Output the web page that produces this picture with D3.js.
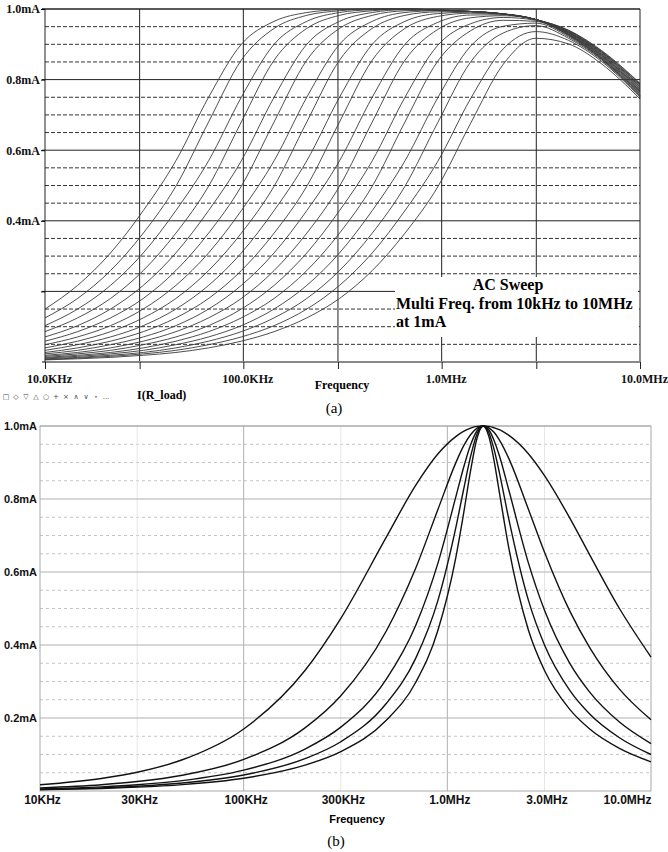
<!DOCTYPE html>
<html>
<head>
<meta charset="utf-8">
<script src="https://cdn.jsdelivr.net/npm/d3@7"></script>
<style>
  body { margin: 0; background: #fff; }
  svg { display: block; }
</style>
</head>
<body>
<svg width="668" height="852"></svg>
<script>
// (a) AC sweep: shared frequency points, one row per curve (mA)
var freqA = [10e3, 14.6e3, 21.4e3, 31.3e3, 45.7e3, 66.8e3, 97.7e3, 142.9e3, 208.9e3, 305.5e3,
             446.7e3, 653.1e3, 955e3, 1.396e6, 2.042e6, 2.985e6, 4.365e6, 6.383e6, 10e6];
var currentA = [
  [0.150,0.217,0.309,0.429,0.570,0.750,0.900,0.965,0.990,0.998,1.000,1.000,0.997,0.993,0.986,0.970,0.940,0.883,0.790],
  [0.125,0.180,0.259,0.365,0.498,0.680,0.855,0.945,0.982,0.995,1.000,1.000,0.997,0.993,0.986,0.970,0.939,0.881,0.788],
  [0.103,0.150,0.217,0.309,0.429,0.570,0.750,0.900,0.965,0.990,0.998,1.000,0.997,0.993,0.986,0.970,0.938,0.879,0.785],
  [0.086,0.125,0.180,0.259,0.365,0.498,0.680,0.855,0.945,0.982,0.995,1.000,0.997,0.993,0.986,0.970,0.936,0.878,0.783],
  [0.071,0.103,0.150,0.217,0.309,0.429,0.570,0.750,0.900,0.965,0.990,0.998,0.997,0.993,0.986,0.970,0.935,0.876,0.780],
  [0.059,0.086,0.125,0.180,0.259,0.365,0.498,0.680,0.855,0.945,0.982,0.995,0.997,0.993,0.986,0.970,0.934,0.874,0.778],
  [0.049,0.071,0.103,0.150,0.217,0.309,0.429,0.570,0.750,0.900,0.965,0.990,0.995,0.993,0.986,0.970,0.933,0.872,0.775],
  [0.040,0.059,0.086,0.125,0.180,0.259,0.365,0.498,0.680,0.855,0.945,0.982,0.992,0.993,0.986,0.970,0.932,0.870,0.773],
  [0.033,0.049,0.071,0.103,0.150,0.217,0.309,0.429,0.570,0.750,0.900,0.965,0.987,0.991,0.986,0.970,0.930,0.869,0.770],
  [0.027,0.040,0.059,0.086,0.125,0.180,0.259,0.365,0.498,0.680,0.855,0.945,0.979,0.988,0.986,0.970,0.929,0.867,0.768],
  [0.023,0.033,0.049,0.071,0.103,0.150,0.217,0.309,0.429,0.570,0.750,0.900,0.962,0.983,0.984,0.970,0.928,0.865,0.765],
  [0.019,0.027,0.040,0.059,0.086,0.125,0.180,0.259,0.365,0.498,0.680,0.855,0.942,0.975,0.981,0.970,0.927,0.863,0.763],
  [0.016,0.023,0.033,0.049,0.071,0.103,0.150,0.217,0.309,0.429,0.570,0.750,0.897,0.958,0.976,0.968,0.926,0.861,0.760],
  [0.013,0.019,0.027,0.040,0.059,0.086,0.125,0.180,0.259,0.365,0.498,0.680,0.852,0.938,0.968,0.965,0.924,0.860,0.758],
  [0.011,0.016,0.023,0.033,0.049,0.071,0.103,0.150,0.217,0.309,0.429,0.570,0.748,0.894,0.951,0.960,0.921,0.858,0.755],
  [0.009,0.013,0.019,0.027,0.040,0.059,0.086,0.125,0.180,0.259,0.365,0.498,0.678,0.849,0.932,0.953,0.917,0.856,0.753],
  [0.007,0.011,0.016,0.023,0.033,0.049,0.071,0.103,0.150,0.217,0.309,0.429,0.568,0.745,0.887,0.936,0.911,0.852,0.750],
  [0.006,0.009,0.013,0.019,0.027,0.040,0.059,0.086,0.125,0.180,0.259,0.365,0.496,0.675,0.843,0.917,0.901,0.845,0.745]
];

// (b) resonance curves
var freqB = [10e3, 20e3, 30e3, 50e3, 100e3, 200e3, 300e3, 500e3, 700e3, 900e3, 1.1e6, 1.2e6, 1.3e6,
             1.4e6, 1.5e6, 1.6e6, 1.7e6, 1.8e6, 2e6, 2.5e6, 3e6, 4e6, 5e6, 7e6, 10e6];
var currentB = [
  [0.0172,0.0343,0.0514,0.0856,0.170,0.330,0.473,0.694,0.838,0.924,0.971,0.985,0.994,0.999,1.0,0.999,0.995,0.990,0.975,0.924,0.864,0.747,0.647,0.500,0.367],
  [0.0086,0.0173,0.0259,0.0432,0.0864,0.173,0.261,0.437,0.611,0.772,0.899,0.945,0.976,0.994,1.0,0.995,0.982,0.962,0.912,0.772,0.654,0.492,0.393,0.279,0.195],
  [0.0057,0.0114,0.0171,0.0285,0.0571,0.115,0.175,0.305,0.454,0.625,0.805,0.885,0.948,0.987,1.0,0.989,0.959,0.919,0.826,0.625,0.495,0.349,0.271,0.189,0.130],
  [0.0044,0.0087,0.0131,0.0219,0.0438,0.0886,0.135,0.239,0.364,0.523,0.721,0.824,0.916,0.979,1.0,0.981,0.934,0.873,0.747,0.523,0.400,0.275,0.211,0.146,0.100],
  [0.0035,0.0070,0.0105,0.0175,0.0350,0.0709,0.108,0.193,0.298,0.441,0.639,0.758,0.877,0.967,1.0,0.971,0.902,0.819,0.668,0.441,0.330,0.223,0.170,0.117,0.080]
];

// ticks and labels
var xTicks = [1e4, 3e4, 1e5, 3e5, 1e6, 3e6, 1e7];
var xLabelsA = ["10.0KHz", "", "100.0KHz", "", "1.0MHz", "", "10.0MHz"];
var xLabelsB = ["10KHz", "30KHz", "100KHz", "300KHz", "1.0MHz", "3.0MHz", "10.0MHz"];
var yMajor = [0.2, 0.4, 0.6, 0.8, 1.0];
var yMinor = [0.05, 0.1, 0.15, 0.25, 0.3, 0.35, 0.45, 0.5, 0.55, 0.65, 0.7, 0.75, 0.85, 0.9, 0.95];
var yLabelsA = ["", "0.4mA", "0.6mA", "0.8mA", "1.0mA"];
var yLabelsB = ["0.2mA", "0.4mA", "0.6mA", "0.8mA", "1.0mA"];
var legendMarks = ["\u25a1", "\u25c7", "\u25bd", "\u25b3", "\u25cb", "+", "\u2a2f", "\u2227", "\u2228", "\u22c6", "..."];
var noteLines = ["Multi Freq. from 10kHz to 10MHz", "at 1mA"];

var serif = "'Liberation Serif', 'Times New Roman', serif",
    sans = "'Liberation Sans', Arial, sans-serif";

var svg = d3.select("svg");

// ---------------- (a) ----------------
var a = { left: 45, right: 640, top: 9, bottom: 362 };
var xA = d3.scaleLog().domain([1e4, 1e7]).range([a.left, a.right]),
    yA = d3.scaleLinear().domain([0, 1]).range([a.bottom, a.top]);
var gA = svg.append("g");

gA.selectAll(".minorA").data(yMinor).enter().append("line")
    .attr("x1", a.left).attr("x2", a.right)
    .attr("y1", function (d) { return yA(d); })
    .attr("y2", function (d) { return yA(d); })
    .attr("stroke", "#333").attr("stroke-dasharray", "4,2");

gA.selectAll(".majorA").data(yMajor).enter().append("line")
    .attr("x1", a.left - 3).attr("x2", a.right)
    .attr("y1", function (d) { return yA(d); })
    .attr("y2", function (d) { return yA(d); })
    .attr("stroke", "#222").attr("stroke-width", function (d) { return d === 1 ? 1.6 : 1; });

gA.selectAll(".vgridA").data(xTicks.slice(1, -1)).enter().append("line")
    .attr("x1", function (d) { return xA(d); })
    .attr("x2", function (d) { return xA(d); })
    .attr("y1", a.top).attr("y2", a.bottom)
    .attr("stroke", "#222");

// text box covers grid in lower right
gA.append("rect").attr("x", 395).attr("y", 277).attr("width", 243).attr("height", 60).attr("fill", "#fff");

var lineA = d3.line()
    .x(function (d, i) { return xA(freqA[i]); })
    .y(function (d) { return yA(d); })
    .curve(d3.curveMonotoneX);

gA.selectAll(".curveA").data(currentA).enter().append("path")
    .attr("d", lineA)
    .attr("fill", "none").attr("stroke", "#3a3a3a").attr("stroke-width", 0.9);

gA.append("line").attr("x1", a.right).attr("x2", a.right).attr("y1", a.top).attr("y2", a.bottom).attr("stroke", "#222");

var axA = gA.append("g")
    .attr("transform", "translate(0," + a.bottom + ")")
    .call(d3.axisBottom(xA).tickValues(xTicks)
        .tickFormat(function (d, i) { return xLabelsA[i]; })
        .tickSize(7).tickSizeOuter(0).tickPadding(5));
axA.select(".domain").attr("stroke", "#888").attr("stroke-width", 2.2).attr("d", "M" + (a.left - 3) + ",0H" + a.right);
axA.selectAll(".tick line").attr("stroke", "#222");
axA.selectAll("text").attr("dx", 4).style("font-family", serif).style("font-weight", "bold").style("font-size", "12px").attr("fill", "#111");

var ayA = gA.append("g")
    .attr("transform", "translate(" + a.left + ",0)")
    .call(d3.axisLeft(yA).tickValues(yMajor)
        .tickFormat(function (d, i) { return yLabelsA[i]; })
        .tickSize(4).tickSizeOuter(0).tickPadding(1));
ayA.select(".domain").attr("stroke", "#222").attr("d", "M0," + a.top + "V" + a.bottom);
ayA.selectAll("text").style("font-family", serif).style("font-weight", "bold").style("font-size", "12px").attr("fill", "#111");

gA.append("text").attr("x", 508).attr("y", 290).attr("text-anchor", "middle")
    .style("font-family", serif).style("font-weight", "bold").style("font-size", "16px").text("AC Sweep");
gA.selectAll(".note").data(noteLines).enter().append("text")
    .attr("x", 396).attr("y", function (d, i) { return 309 + i * 18; })
    .style("font-family", serif).style("font-weight", "bold").style("font-size", "16px")
    .text(function (d) { return d; });

gA.append("text").attr("x", 342).attr("y", 389).attr("text-anchor", "middle")
    .style("font-family", serif).style("font-weight", "bold").style("font-size", "12px").text("Frequency");

var legX = d3.scalePoint().domain(d3.range(legendMarks.length)).range([6, 106]);
gA.selectAll(".mark").data(legendMarks).enter().append("text")
    .attr("x", function (d, i) { return legX(i); })
    .attr("y", 399).attr("text-anchor", "middle")
    .style("font-family", "'DejaVu Sans', sans-serif").style("font-size", "7px").attr("fill", "#444")
    .text(function (d) { return d; });
gA.append("text").attr("x", 137).attr("y", 399)
    .style("font-family", serif).style("font-weight", "bold").style("font-size", "12px").text("I(R_load)");

svg.append("text").attr("x", 334).attr("y", 413).attr("text-anchor", "middle")
    .style("font-family", serif).style("font-size", "15px").text("(a)");

// ---------------- (b) ----------------
var b = { left: 40, right: 651, top: 426, bottom: 791 };
var xB = d3.scaleLog().domain([1e4, 1e7]).range([b.left, b.right]),
    yB = d3.scaleLinear().domain([0, 1]).range([b.bottom, b.top]);
var gB = svg.append("g");

gB.selectAll(".minorB").data(yMinor).enter().append("line")
    .attr("x1", b.left).attr("x2", b.right)
    .attr("y1", function (d) { return yB(d); })
    .attr("y2", function (d) { return yB(d); })
    .attr("stroke", "#c4c4c4").attr("stroke-dasharray", "3,3");

gB.selectAll(".vgridB").data(xTicks.slice(1, -1)).enter().append("line")
    .attr("x1", function (d) { return xB(d); })
    .attr("x2", function (d) { return xB(d); })
    .attr("y1", b.top).attr("y2", b.bottom)
    .attr("stroke", function (d, i) { return i % 2 ? "#b0b0b0" : "#e6e6e6"; });

gB.selectAll(".majorB").data(yMajor).enter().append("line")
    .attr("x1", b.left).attr("x2", b.right)
    .attr("y1", function (d) { return yB(d); })
    .attr("y2", function (d) { return yB(d); })
    .attr("stroke", "#b0b0b0");

gB.append("rect").attr("x", b.left).attr("y", b.top)
    .attr("width", b.right - b.left).attr("height", b.bottom - b.top)
    .attr("fill", "none").attr("stroke", "#a8a8a8");

var lineB = d3.line()
    .x(function (d, i) { return xB(freqB[i]); })
    .y(function (d) { return yB(d); })
    .curve(d3.curveMonotoneX);

gB.selectAll(".curveB").data(currentB).enter().append("path")
    .attr("d", lineB)
    .attr("fill", "none").attr("stroke", "#111").attr("stroke-width", 1.4);

var axB = gB.append("g")
    .attr("transform", "translate(0," + b.bottom + ")")
    .call(d3.axisBottom(xB).tickValues(xTicks)
        .tickFormat(function (d, i) { return xLabelsB[i]; })
        .tickSize(0).tickPadding(4));
axB.select(".domain").remove();
axB.selectAll("text").attr("dx", 2)
    .style("font-family", sans).style("font-weight", "bold").style("font-size", "12px").attr("fill", "#111");
axB.selectAll(".tick").filter(function (d) { return d === 1e7; }).select("text")
    .attr("text-anchor", "end").attr("dx", 0);

var ayB = gB.append("g")
    .attr("transform", "translate(" + b.left + ",0)")
    .call(d3.axisLeft(yB).tickValues(yMajor)
        .tickFormat(function (d, i) { return yLabelsB[i]; })
        .tickSize(0).tickPadding(3));
ayB.select(".domain").remove();
ayB.selectAll("text").style("font-family", sans).style("font-weight", "bold").style("font-size", "11px").attr("fill", "#111");

gB.append("text").attr("x", 357).attr("y", 823).attr("text-anchor", "middle")
    .style("font-family", sans).style("font-weight", "bold").style("font-size", "11px").text("Frequency");

svg.append("text").attr("x", 336).attr("y", 846).attr("text-anchor", "middle")
    .style("font-family", serif).style("font-size", "15px").text("(b)");
</script>
</body>
</html>
